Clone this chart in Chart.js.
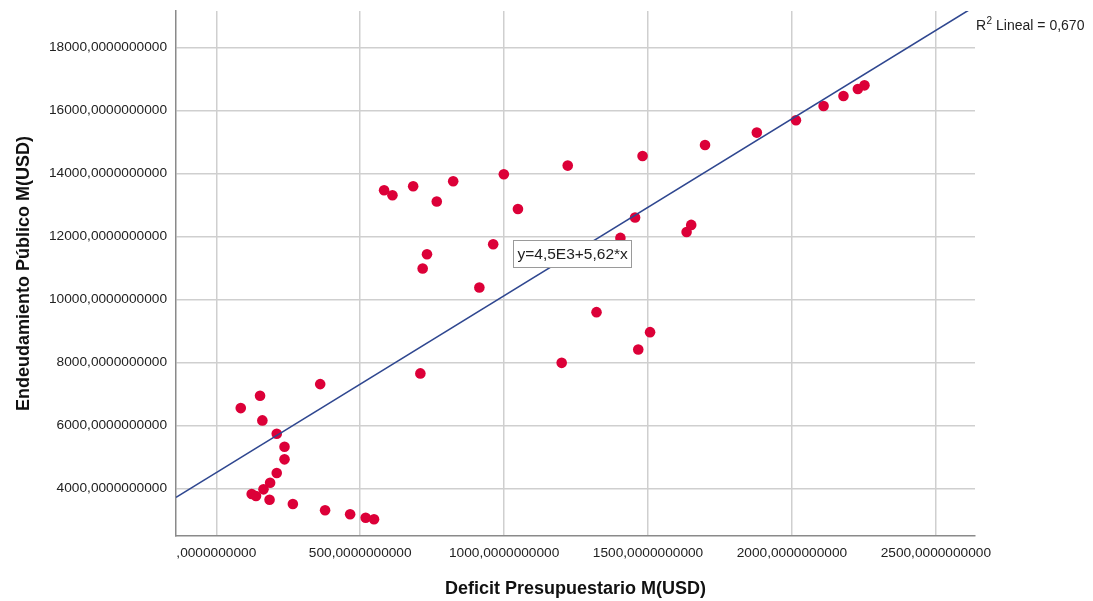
<!DOCTYPE html>
<html>
<head>
<meta charset="utf-8">
<script src="https://cdn.jsdelivr.net/npm/chart.js@4.4.1/dist/chart.umd.min.js"></script>
<style>
  html, body { margin: 0; padding: 0; background: #fff; }
  #wrap { width: 1093px; height: 601px; position: relative; }
</style>
</head>
<body>
<div id="wrap"><canvas id="c" width="1093" height="601"></canvas></div>
<script>
// Deficit presupuestario (M USD) per observation
const deficit = [
  85, 152, 160, 361, 210, 237, 237, 210, 187, 164, 123, 138, 185, 266, 378, 465, 519, 548,
  583, 612, 684, 766, 823, 999, 1048, 962, 732, 717, 914, 709,
  1221, 1481, 1455, 1650, 1634, 1404, 1321, 1507, 1466, 1200,
  1698, 1878, 2014, 2110, 2179, 2229, 2252
];
// Endeudamiento público (M USD) per observation
const deuda = [
  6549, 6940, 6159, 7311, 5733, 5321, 4921, 4486, 4178, 3968, 3819, 3756, 3638, 3502, 3302, 3175, 3067, 3016,
  13470, 13311, 13598, 13111, 13756, 13978, 12876, 11756, 11438, 10984, 10381, 7651,
  14254, 14559, 12604, 12369, 12146, 11956, 9597, 8962, 8413, 7987,
  14908, 15302, 15692, 16147, 16464, 16686, 16803
];
// Axis ranges and tick positions
const xRange = [-140, 2636];
const yRange = [2486, 19165];
const xTicks = [0, 500, 1000, 1500, 2000, 2500];
const yTicks = [4000, 6000, 8000, 10000, 12000, 14000, 16000, 18000];
// Linear fit: y = intercept + slope * x
const intercept = 4500;
const slope = 5.62;
const fitLabel = 'y=4,5E3+5,62*x';
const r2Value = '0,670';
const xTitle = 'Deficit Presupuestario M(USD)';
const yTitle = 'Endeudamiento Público M(USD)';

const FONT = '"Liberation Sans", Arial, sans-serif';

const points = deficit.map((x, i) => ({ x: x, y: deuda[i] }));
const fitLine = xRange.map(x => ({ x: x, y: intercept + slope * x }));

function fmt(v) {
  let s = Number(v).toFixed(10).replace('.', ',');
  if (s.startsWith('0,')) s = s.slice(1);
  return s;
}

// Equation box and R² annotation
const annotations = {
  id: 'annotations',
  afterDatasetsDraw(chart) {
    const ctx = chart.ctx;
    const xs = chart.scales.x, ys = chart.scales.y;
    // equation box anchored in data space
    const bx = Math.round(xs.getPixelForValue(1032)) + 0.5;
    const by = Math.round(ys.getPixelForValue(11883)) + 0.5;
    ctx.save();
    ctx.font = '15.5px ' + FONT;
    const tw = ctx.measureText(fitLabel).width;
    const bw = Math.round(tw + 8), bh = 27;
    ctx.fillStyle = '#fff';
    ctx.fillRect(bx, by, bw, bh);
    ctx.strokeStyle = '#9a9a9a';
    ctx.lineWidth = 1;
    ctx.strokeRect(bx, by, bw, bh);
    ctx.fillStyle = '#222';
    ctx.textBaseline = 'middle';
    ctx.textAlign = 'left';
    ctx.fillText(fitLabel, bx + 4, by + bh / 2 + 1);

    // R² label at the top right
    const ax = chart.chartArea.right + 1;
    const ay = 30;
    ctx.textBaseline = 'alphabetic';
    ctx.font = '14px ' + FONT;
    ctx.fillText('R', ax, ay);
    let cx = ax + ctx.measureText('R').width;
    ctx.font = '10px ' + FONT;
    ctx.fillText('2', cx + 0.5, ay - 6);
    cx += ctx.measureText('2').width + 0.5;
    ctx.font = '14px ' + FONT;
    ctx.fillText(' Lineal = ' + r2Value, cx, ay);
    ctx.restore();
  }
};

new Chart(document.getElementById('c'), {
  type: 'scatter',
  data: {
    datasets: [
      {
        type: 'line',
        data: fitLine,
        borderColor: '#2f4790',
        borderWidth: 1.6,
        pointRadius: 0,
        fill: false,
        order: 0
      },
      {
        data: points,
        backgroundColor: '#dc0038',
        borderColor: '#dc0038',
        borderWidth: 0,
        pointRadius: 5.3,
        order: 1
      }
    ]
  },
  options: {
    responsive: false,
    animation: false,
    layout: { padding: { left: 0, top: 11, right: 118, bottom: 0 } },
    plugins: { legend: { display: false }, tooltip: { enabled: false } },
    scales: {
      x: {
        type: 'linear',
        min: xRange[0],
        max: xRange[1],
        afterBuildTicks(scale) { scale.ticks = xTicks.map(v => ({ value: v })); },
        afterFit(scale) { scale.height = 65; scale.paddingLeft = 0; scale.paddingRight = 0; },
        grid: { color: '#cfcfcf', lineWidth: 1.5, drawTicks: false },
        border: { display: true, color: '#8a8a8a', width: 1.5 },
        ticks: {
          padding: 9,
          maxRotation: 0,
          autoSkip: false,
          color: '#222',
          font: { family: FONT, size: 13.7 },
          callback: v => fmt(v)
        },
        title: {
          display: true,
          text: xTitle,
          color: '#111',
          font: { family: FONT, size: 18, weight: 'bold' },
          padding: { top: 1, bottom: 1 }
        }
      },
      y: {
        type: 'linear',
        min: yRange[0],
        max: yRange[1],
        afterBuildTicks(scale) { scale.ticks = yTicks.map(v => ({ value: v })); },
        afterFit(scale) { scale.width = 176; scale.paddingTop = 0; scale.paddingBottom = 0; },
        grid: { color: '#cfcfcf', lineWidth: 1.5, drawTicks: false },
        border: { display: true, color: '#8a8a8a', width: 1.5 },
        ticks: {
          padding: 9,
          autoSkip: false,
          color: '#222',
          font: { family: FONT, size: 13.7 },
          callback: v => fmt(v)
        },
        title: {
          display: true,
          text: yTitle,
          color: '#111',
          font: { family: FONT, size: 18, weight: 'bold' },
          padding: { top: 13, bottom: 0 }
        }
      }
    }
  },
  plugins: [annotations]
});
</script>
</body>
</html>
